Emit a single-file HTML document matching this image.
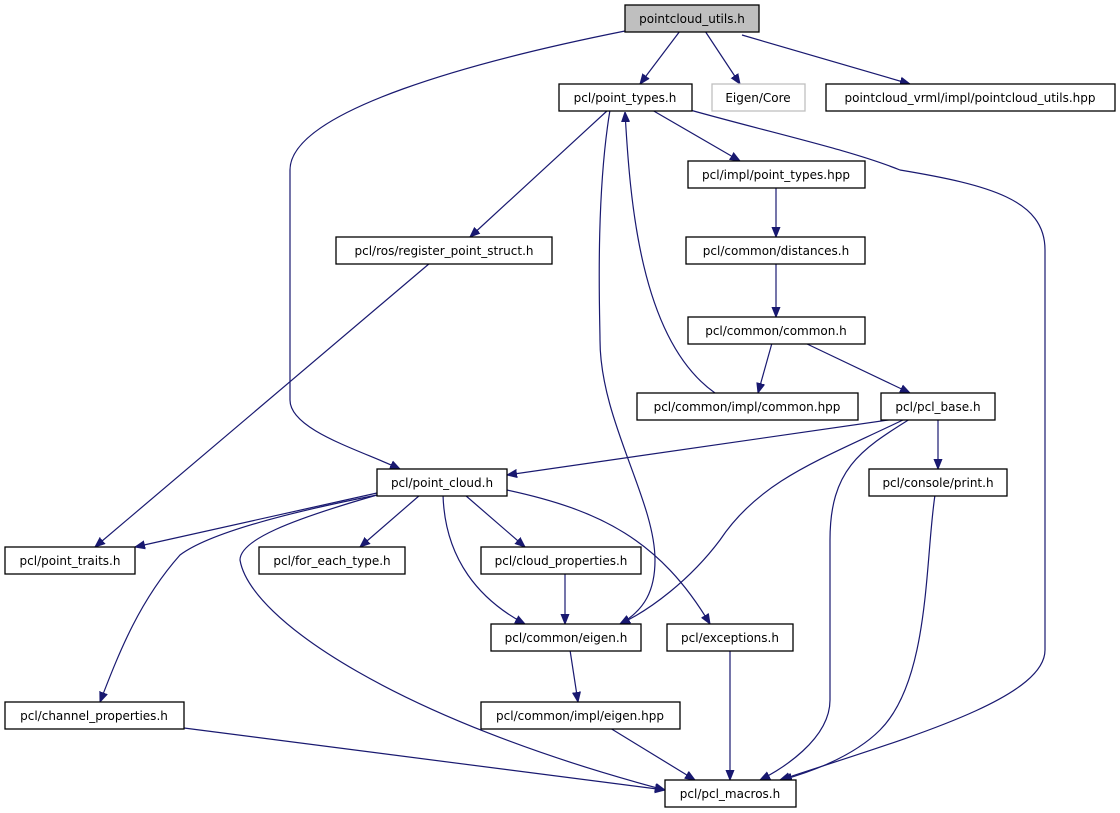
<!DOCTYPE html>
<html><head><meta charset="utf-8"><style>
html,body{margin:0;padding:0;background:#fff;}
svg{display:block;}
text{font-family:"DejaVu Sans","Liberation Sans",sans-serif;font-size:12px;fill:#000;}
.n{fill:#fff;stroke:#000;stroke-width:1.3;}
.e{fill:none;stroke:#191970;stroke-width:1.2;}
</style></head><body>
<svg width="1120" height="813" viewBox="0 0 1120 813" xmlns="http://www.w3.org/2000/svg">
<defs><marker id="a" viewBox="0 0 10 10" refX="10" refY="5" markerWidth="10" markerHeight="10" markerUnits="userSpaceOnUse" orient="auto"><path d="M0,1 L10,5 L0,9 z" fill="#191970" stroke="#191970"/></marker></defs>
<g marker-end="url(#a)">
<path class="e" d="M625,31 C480,60 290,110 290,170 L290,400 C290,430 360,450 400,469"/>
<path class="e" d="M680,31 L640,84"/>
<path class="e" d="M705,31 L740,84"/>
<path class="e" d="M742,35 L910,84"/>
<path class="e" d="M608,110 L470,237"/>
<path class="e" d="M652,110 L740,161"/>
<path class="e" d="M690,110 C780,135 850,150 900,170 C990,185 1045,200 1045,250 L1045,650 C1045,700 900,740 780,780"/>
<path class="e" d="M610,110 C595,200 600,320 600,340 C600,420 655,500 655,560 C655,590 645,610 620,624"/>
<path class="e" d="M715,393 C640,340 630,200 625,112"/>
<path class="e" d="M776,187 L776,237"/>
<path class="e" d="M776,263 L776,317"/>
<path class="e" d="M772,343 L758,393"/>
<path class="e" d="M805,343 L910,393"/>
<path class="e" d="M895,419 L507,475"/>
<path class="e" d="M938,419 L938,469"/>
<path class="e" d="M905,419 C820,460 760,480 720,540 C690,580 650,610 620,624"/>
<path class="e" d="M910,419 C860,450 830,470 830,540 L830,700 C830,740 780,770 760,780"/>
<path class="e" d="M935,495 C925,560 930,680 880,730 C850,760 800,775 782,780"/>
<path class="e" d="M430,263 L95,547"/>
<path class="e" d="M377,493 L135,547"/>
<path class="e" d="M377,495 C250,520 200,540 180,555 C140,600 120,650 100,702"/>
<path class="e" d="M377,495 C290,520 240,540 240,560 C250,620 400,720 665,790"/>
<path class="e" d="M420,495 L360,547"/>
<path class="e" d="M443,495 C445,560 480,600 525,624"/>
<path class="e" d="M465,495 L525,547"/>
<path class="e" d="M507,490 C600,510 660,540 710,624"/>
<path class="e" d="M565,573 L565,624"/>
<path class="e" d="M570,650 L578,702"/>
<path class="e" d="M184,728 L665,790"/>
<path class="e" d="M610,728 L695,780"/>
<path class="e" d="M730,650 L730,780"/>
</g>
<rect x="625" y="5" width="134" height="27" fill="#bfbfbf" stroke="#000" stroke-width="1.3"/><text x="692" y="23" text-anchor="middle">pointcloud_utils.h</text>
<rect class="n" x="559" y="84" width="133" height="27"/><text x="625" y="102" text-anchor="middle">pcl/point_types.h</text>
<rect x="712" y="84" width="93" height="27" fill="#fff" stroke="#bfbfbf" stroke-width="1.3"/><text x="758" y="102" text-anchor="middle">Eigen/Core</text>
<rect class="n" x="826" y="84" width="289" height="27"/><text x="970" y="102" text-anchor="middle">pointcloud_vrml/impl/pointcloud_utils.hpp</text>
<rect class="n" x="688" y="161" width="177" height="27"/><text x="776" y="179" text-anchor="middle">pcl/impl/point_types.hpp</text>
<rect class="n" x="336" y="237" width="216" height="27"/><text x="444" y="255" text-anchor="middle">pcl/ros/register_point_struct.h</text>
<rect class="n" x="686" y="237" width="179" height="27"/><text x="776" y="255" text-anchor="middle">pcl/common/distances.h</text>
<rect class="n" x="688" y="317" width="177" height="27"/><text x="776" y="335" text-anchor="middle">pcl/common/common.h</text>
<rect class="n" x="637" y="393" width="221" height="27"/><text x="747" y="411" text-anchor="middle">pcl/common/impl/common.hpp</text>
<rect class="n" x="881" y="393" width="114" height="27"/><text x="938" y="411" text-anchor="middle">pcl/pcl_base.h</text>
<rect class="n" x="377" y="469" width="130" height="27"/><text x="442" y="487" text-anchor="middle">pcl/point_cloud.h</text>
<rect class="n" x="869" y="469" width="138" height="27"/><text x="938" y="487" text-anchor="middle">pcl/console/print.h</text>
<rect class="n" x="5" y="547" width="130" height="27"/><text x="70" y="565" text-anchor="middle">pcl/point_traits.h</text>
<rect class="n" x="259" y="547" width="146" height="27"/><text x="332" y="565" text-anchor="middle">pcl/for_each_type.h</text>
<rect class="n" x="481" y="547" width="160" height="27"/><text x="561" y="565" text-anchor="middle">pcl/cloud_properties.h</text>
<rect class="n" x="491" y="624" width="150" height="27"/><text x="566" y="642" text-anchor="middle">pcl/common/eigen.h</text>
<rect class="n" x="667" y="624" width="126" height="27"/><text x="730" y="642" text-anchor="middle">pcl/exceptions.h</text>
<rect class="n" x="5" y="702" width="179" height="27"/><text x="94" y="720" text-anchor="middle">pcl/channel_properties.h</text>
<rect class="n" x="481" y="702" width="199" height="27"/><text x="580" y="720" text-anchor="middle">pcl/common/impl/eigen.hpp</text>
<rect class="n" x="665" y="780" width="131" height="27"/><text x="730" y="798" text-anchor="middle">pcl/pcl_macros.h</text>
</svg>
</body></html>
